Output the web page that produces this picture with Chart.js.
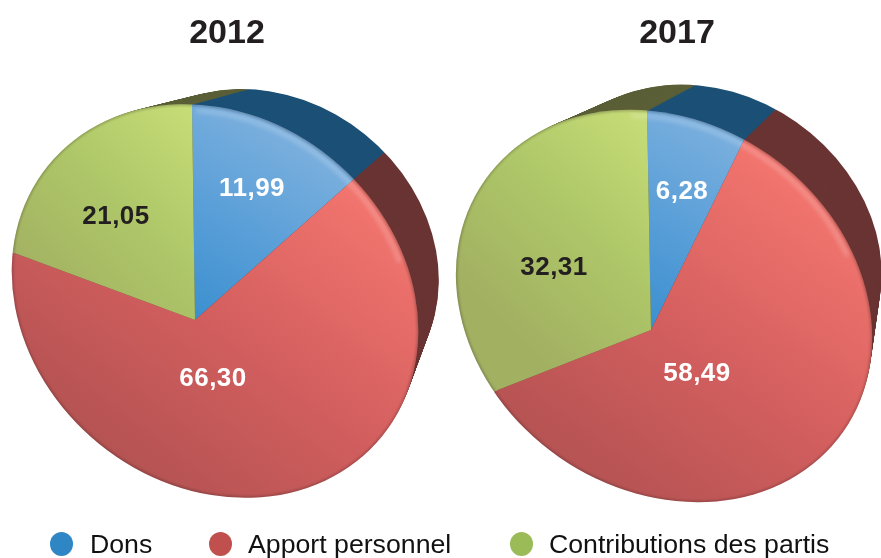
<!DOCTYPE html>
<html><head><meta charset="utf-8">
<script src="https://cdn.jsdelivr.net/npm/chart.js@4"></script>
<style>
html,body{margin:0;padding:0;background:#fff}
#stage{position:relative;width:881px;height:558px;overflow:hidden;font-family:"Liberation Sans",Arial,sans-serif}
canvas{position:absolute}
.title{position:absolute;top:10px;font-weight:bold;font-size:34px;line-height:42px;color:#231f20;transform:translateX(-50%);white-space:nowrap}
.lg{position:absolute;top:527px;font-size:26.7px;line-height:34px;color:#111;white-space:nowrap}
.dot{position:absolute;top:532px;width:23px;height:24px;border-radius:50%}
</style></head>
<body><div id="stage"></div>
<script>
const categories = ["Dons", "Apport personnel", "Contributions des partis"];
const years = ["2012", "2017"];
const values2012 = [11.99, 66.30, 21.05];
const values2017 = [6.28, 58.49, 32.31];
const legendColors = ["#2e86c4", "#c0504d", "#9bbb59"];
const depthColors = ["#1c5076", "#693433", "#5b5f37"];
const labelColors = ["#ffffff", "#ffffff", "#231f20"];
const SIZE = 600;
const RAD = Math.PI / 180;

// Geometry of the tilted discs (perspective look)
const views = [
  {year: years[0], values: values2012, titleX: 227,
   apex: [195, 320], m: [1.044, 0.144, 0.014], ell: [215, 301, 215, 184, 39],
   vp: [549, 8], back: 0.843, lab: [[57, -131], [18, 59], [-79, -103]]},
  {year: years[1], values: values2017, titleX: 677,
   apex: [651, 330], m: [1.110, 0.143, 0.018], ell: [664, 306, 219, 184, 35],
   vp: [928, -39], back: 0.83, lab: [[31, -138], [46, 44], [-97, -62]]}
];

function ellipsePath(ctx, e, k, a0, a1) {
  k = k || 1;
  ctx.beginPath();
  ctx.ellipse(e[0], e[1], e[2] * k, e[3] * k, e[4] * RAD,
    a0 === undefined ? 0 : a0 * RAD, a1 === undefined ? Math.PI * 2 : a1 * RAD);
}
function lin(c, x0, y0, x1, y1, stops) {
  const g = c.createLinearGradient(SIZE/2 + x0, SIZE/2 + y0, SIZE/2 + x1, SIZE/2 + y1);
  stops.forEach((s, i) => g.addColorStop(i / (stops.length - 1), s));
  return g;
}
function sliceFill(c, i) {
  if (i === 0) return lin(c, -10, 0, 90, -205, ["#3a8fcf", "#5a9fd8", "#7cb0de"]);
  if (i === 1) return lin(c, -90, 190, 150, -170, ["#ae5050", "#d25e5e", "#f4766f"]);
  return lin(c, -170, -20, 10, -215, ["#a2b062", "#aec768", "#c8de78"]);
}

function makePie(v) {
  const cv = document.createElement("canvas");
  cv.width = SIZE; cv.height = SIZE;
  cv.style.width = SIZE + "px"; cv.style.height = SIZE + "px";
  const left = v.apex[0] - SIZE/2, top = v.apex[1] - SIZE/2;
  cv.style.left = left + "px"; cv.style.top = top + "px";
  document.getElementById("stage").appendChild(cv);

  const toDisc = ctx => {
    ctx.transform(v.m[0], v.m[1], v.m[2], 1, v.apex[0], v.apex[1]);
    ctx.translate(-SIZE/2, -SIZE/2);
  };
  const tilt = {
    id: "tilt",
    beforeDatasetsDraw(chart) {
      const ctx = chart.ctx, arcs = chart.getDatasetMeta(0).data;
      const steps = 36;
      for (let k = 0; k < steps; k++) {
        const s = v.back + (1 - v.back) * k / steps;
        ctx.save();
        ctx.translate(-left, -top);
        ctx.translate(v.vp[0], v.vp[1]); ctx.scale(s, s); ctx.translate(-v.vp[0], -v.vp[1]);
        ellipsePath(ctx, v.ell); ctx.clip();
        toDisc(ctx);
        arcs.forEach((a, i) => {
          const old = a.options.backgroundColor;
          a.options.backgroundColor = depthColors[i];
          a.draw(ctx);
          a.options.backgroundColor = old;
        });
        ctx.restore();
      }
      ctx.save();
      ctx.translate(-left, -top);
      ellipsePath(ctx, v.ell); ctx.clip();
      toDisc(ctx);
    },
    afterDatasetsDraw(chart) {
      const ctx = chart.ctx;
      ctx.restore();
      // soft rim shading and highlight
      ctx.save();
      ctx.translate(-left, -top);
      ellipsePath(ctx, v.ell); ctx.clip();
      ctx.filter = "blur(2px)";
      ctx.lineWidth = 5; ctx.strokeStyle = "rgba(255,255,255,0.20)";
      ellipsePath(ctx, v.ell, 0.97, -130, -55); ctx.stroke();
      ctx.filter = "blur(1px)";
      ctx.lineWidth = 3; ctx.strokeStyle = "rgba(30,25,25,0.25)";
      ellipsePath(ctx, v.ell); ctx.stroke();
      ctx.restore();
      // value labels
      const arcs = chart.getDatasetMeta(0).data;
      ctx.save();
      ctx.font = "bold 26px 'Liberation Sans', Arial, sans-serif";
      ctx.letterSpacing = "0.5px";
      ctx.textAlign = "center"; ctx.textBaseline = "middle";
      arcs.forEach((a, i) => {
        ctx.fillStyle = labelColors[i];
        ctx.fillText(v.values[i].toFixed(2).replace(".", ","),
          SIZE/2 + v.lab[i][0], SIZE/2 + v.lab[i][1]);
      });
      ctx.restore();
    }
  };

  new Chart(cv, {
    type: "pie",
    data: {
      labels: categories,
      datasets: [{
        data: v.values,
        clip: false,
        borderWidth: 0,
        backgroundColor: c => sliceFill(c.chart.ctx, c.dataIndex)
      }]
    },
    options: {
      responsive: false, animation: false,
      layout: {padding: 0},
      plugins: {legend: {display: false}, tooltip: {enabled: false}, title: {display: false}}
    },
    plugins: [tilt]
  });

  const t = document.createElement("div");
  t.className = "title"; t.textContent = v.year; t.style.left = v.titleX + "px";
  document.getElementById("stage").appendChild(t);
}
views.forEach(makePie);

const legendDotX = [50, 209, 510], legendTextX = [90, 248, 549];
categories.forEach((name, i) => {
  const stage = document.getElementById("stage");
  const d = document.createElement("div");
  d.className = "dot"; d.style.left = legendDotX[i] + "px"; d.style.background = legendColors[i];
  stage.appendChild(d);
  const l = document.createElement("div");
  l.className = "lg"; l.style.left = legendTextX[i] + "px"; l.textContent = name;
  stage.appendChild(l);
});
</script></body></html>
